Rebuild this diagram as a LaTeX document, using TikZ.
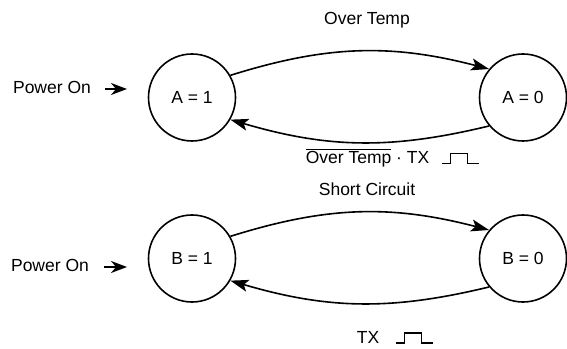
\documentclass[tikz,border=0pt]{standalone}
\usepackage{fontspec}
\setmainfont{Liberation Sans}
\usetikzlibrary{arrows.meta}
\begin{document}
\begin{tikzpicture}[x=1pt,y=1pt,
    every node/.style={font=\fontsize{17.5}{20}\selectfont},
    state/.style={draw, circle, line width=1.6pt, minimum size=87pt, inner sep=0pt},
    lbl/.style={anchor=base, inner sep=0pt},
    trans/.style={line width=1.6pt, -{Stealth[length=18pt,width=12pt,inset=4pt]}},
    power/.style={line width=1.8pt, -{Stealth[length=16pt,width=12pt,inset=5pt]}},
    pulse/.style={line width=1.4pt}]
    \useasboundingbox (0,0) rectangle (567,348);

    % States
    \node[state] (a1) at (192,250.5) {A = 1};
    \node[state] (a0) at (523,250.5) {A = 0};
    \node[state] (b1) at (192,89.5) {B = 1};
    \node[state] (b0) at (523,89.5) {B = 0};

    % Labels
    \node[lbl] (pwrA) at (52,254.6) {Power On};
    \node[lbl] (pwrB) at (50,76.6) {Power On};
    \node[lbl] (tmpA) at (367,323.6) {Over Temp};
    \node[lbl] (clrA) at (367.5,184.6) {$\overline{\mbox{\vphantom{Ol}Over Temp}}$ · TX};
    \node[lbl] (scB) at (367,152.6) {Short Circuit};
    \node[lbl] (clrB) at (368,5) {TX};
    \coordinate (inA) at (127,259);
    \coordinate (inB) at (127,81);

    % Transitions
    \draw[power] ([xshift=14pt]pwrA.east |- inA) -- (inA);
    \draw[power] ([xshift=15pt]pwrB.east |- inB) -- (inB);
    \draw[trans] (a1.30) to[bend left=16] (a0.140);
    \draw[trans] (a0.220) to[bend left=15] (a1.330);
    \draw[trans] (b1.30) to[bend left=16] (b0.140);
    \draw[trans] (b0.220) to[bend left=15] (b1.330);

    % Pulses
    \draw[pulse] ([xshift=13pt]clrA.base east) -- ++(8,0) -- ++(0,10) -- ++(17,0) -- ++(0,-10) -- ++(12,0);
    \draw[pulse] ([xshift=17pt]clrB.base east) -- ++(8,0) -- ++(0,10) -- ++(17,0) -- ++(0,-10) -- ++(12,0);
\end{tikzpicture}
\end{document}
